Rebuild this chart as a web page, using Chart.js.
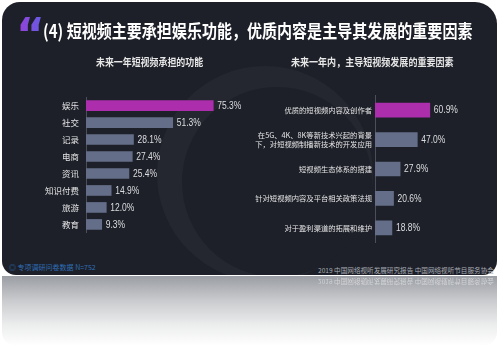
<!DOCTYPE html>
<html><head><meta charset="utf-8">
<script src="https://cdn.jsdelivr.net/npm/chart.js@4.4.0/dist/chart.umd.min.js"></script>
<style>
html,body{margin:0;padding:0;background:#fff;width:499px;height:358px;overflow:hidden;font-family:"Noto Sans CJK SC","Noto Sans",sans-serif;}
#card{position:absolute;left:2px;top:2px;width:495px;height:273px;background:#1d2028;border-radius:18px 22px 14px 14px;overflow:hidden;}
#refl{position:absolute;left:2px;top:276px;width:495px;height:70px;border-radius:0 0 14px 14px;background:linear-gradient(#9a9da3 0%,#c9cbce 35%,#eceded 70%,#fff 100%);}
.ring1{position:absolute;left:155px;top:64px;width:216px;height:216px;border-radius:50%;background:#24272f;}
.ring2{position:absolute;left:180px;top:85px;width:190px;height:190px;border-radius:50%;background:#1d2028;}
.t{position:absolute;white-space:nowrap;transform-origin:left center;}
canvas{position:absolute;}
</style></head><body>
<div id="card">
  <div class="ring1"></div><div class="ring2"></div>
</div>
<div id="refl"></div>
<div class="t" id="quote" style="left:16px;top:13px;font:bold 44px 'DejaVu Sans';line-height:44px;background:linear-gradient(90deg,#9b3fd6,#5f5ee6);-webkit-background-clip:text;background-clip:text;color:transparent;">“</div>
<div class="t" id="title" style="left:43px;top:19px;font-weight:bold;font-size:18px;line-height:22px;color:#fff;transform:scaleX(0.835);">(4) 短视频主要承担娱乐功能，优质内容是主导其发展的重要因素</div>
<div class="t" id="sub1" style="left:96px;top:55px;font-weight:bold;font-size:10.5px;line-height:14px;color:#e6e6e6;transform:scaleX(0.85);">未来一年短视频承担的功能</div>
<div class="t" id="sub2" style="left:291px;top:55px;font-weight:bold;font-size:10.5px;line-height:14px;color:#e6e6e6;transform:scaleX(0.86);">未来一年内，主导短视频发展的重要因素</div>
<div class="t" style="left:9px;top:262px;font-size:7px;line-height:10px;color:#2f6fb8;">◎ 专项调研问卷数据  N=752</div>
<div class="t" style="left:318px;top:265px;font-size:6.6px;line-height:10px;color:#a9adb5;">2019 中国网络视听发展研究报告 中国网络视听节目服务协会</div>
<div class="t" style="left:318px;top:277px;font-size:6.6px;line-height:10px;color:#d2d4d7;transform:scaleY(-1);">2019 中国网络视听发展研究报告 中国网络视听节目服务协会</div>
<canvas id="c1" width="245" height="160" style="left:10px;top:85px;"></canvas>
<canvas id="c2" width="213" height="162" style="left:252px;top:88px;"></canvas>
<script>
const leftCategories = ['娱乐','社交','记录','电商','资讯','知识付费','旅游','教育'];
const leftValues = [75.3,51.3,28.1,27.4,25.4,14.9,12.0,9.3];
const rightCategories = ['优质的短视频内容及创作者', ['在5G、4K、8K等新技术兴起的背景','下，对短视频制播新技术的开发应用'], '短视频生态体系的搭建', '针对短视频内容及平台相关政策法规', '对于盈利渠道的拓展和维护'];
const rightValues = [60.9,47.0,27.9,20.6,18.8];
const highlight = '#ad2ead';
const base = '#646e88';

const valueLabels = {
  id:'valueLabels',
  afterDatasetsDraw(chart, args, opts){
    const ctx = chart.ctx;
    const meta = chart.getDatasetMeta(0);
    meta.data.forEach((bar,i)=>{
      const v = chart.data.datasets[0].data[i];
      ctx.save();
      ctx.font = opts.font;
      ctx.fillStyle = opts.color;
      ctx.textBaseline = 'middle';
      ctx.textAlign = 'left';
      ctx.translate(bar.x+4, bar.y+0.5);
      ctx.scale(0.85,1);
      ctx.fillText(v.toFixed(1)+'%', 0, 0);
      ctx.restore();
    });
  }
};

function makeChart(id, cats, vals, opt){
  return new Chart(document.getElementById(id), {
    type:'bar',
    data:{labels:cats, datasets:[{data:vals, backgroundColor:vals.map((v,i)=>i===0?highlight:base), barThickness:opt.bar, borderWidth:0}]},
    options:{
      indexAxis:'y', responsive:false, animation:false, devicePixelRatio:1,
      layout:{padding:{top:opt.pt, bottom:opt.pb, left:0, right:0}},
      plugins:{legend:{display:false}, tooltip:{enabled:false}, valueLabels:{font:opt.vfont, color:'#dcdde0'}},
      scales:{
        x:{display:false, min:0, max:100},
        y:{
          grid:{display:false, drawTicks:false},
          border:{display:true, color:'#4b4f59', width:1},
          ticks:{color:'#e4e4e6', font:{family:'"Noto Sans CJK SC"', size:opt.fs}, padding:opt.tp, autoSkip:false},
          afterFit:(s)=>{s.width = opt.yw;}
        }
      }
    },
    plugins:[valueLabels]
  });
}
makeChart('c1', leftCategories, leftValues, {bar:10, pt:4, pb:4, fs:8.5, tp:7, yw:76, vfont:'10px "Liberation Sans",sans-serif'});
makeChart('c2', rightCategories, rightValues, {bar:14, pt:4, pb:4.25, fs:7.3, tp:3, yw:123, vfont:'10px "Liberation Sans",sans-serif'});
</script>
</body></html>
